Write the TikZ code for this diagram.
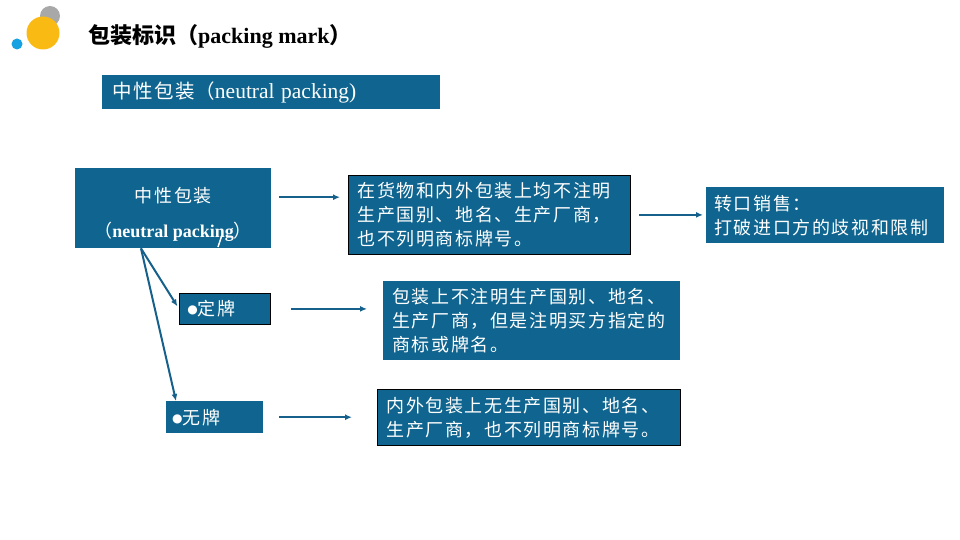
\documentclass[tikz,border=0pt]{standalone}
\usepackage{fontspec}
\setmainfont{Liberation Serif}
\newfontfamily\cjk{Noto Sans CJK SC}
\newfontfamily\cjkwide[LetterSpace=9]{Noto Sans CJK SC}
\newfontfamily\symb{DejaVu Sans}
\usepackage{tikz}
\usetikzlibrary{arrows.meta, calc, positioning}

\definecolor{boxblue}{RGB}{15,101,143}
\definecolor{lineblue}{RGB}{22,96,140}
\definecolor{logogray}{RGB}{168,168,168}
\definecolor{logoyellow}{RGB}{250,186,20}
\definecolor{logoblue}{RGB}{22,162,226}

\newcommand{\dotmark}{\raisebox{2pt}{\symb\fontsize{12}{12}\selectfont ●}}

\tikzset{
  box/.style={fill=boxblue, text=white, inner xsep=9pt, inner ysep=0pt,
    anchor=north west, align=left, font=\cjkwide\fontsize{18}{24}\selectfont},
  framed/.style={draw=black, line width=0.8pt},
  arr/.style={draw=lineblue, line width=2pt, -{Latex[length=7pt,width=6pt]}}
}

\begin{document}
\begin{tikzpicture}[x=1pt, y=-1pt]
      \useasboundingbox (0,0) rectangle (960,540);

      % logo
      \fill [logogray] (50,16) circle (10);
      \fill [logoyellow] (43,33) circle (16.5);
      \fill [logoblue] (17,44) circle (5.5);

      % title
      \node [anchor=west, inner sep=0] (title) at (88,36)
        {\fontsize{22}{24}\selectfont\bfseries{\cjk 包装标识（}packing mark{\cjk ）}};

      \node [box, minimum width=338, minimum height=34, inner xsep=10pt, text width=318,
        font=\fontsize{19.5}{24}\selectfont] (neutral) at (102,75)
        {{\cjkwide 中性包装}{\cjk （}{\fontsize{21.5}{24}\selectfont neutral packing)}};

      \node [box, minimum width=196, minimum height=80, align=center] (np) at (75,168)
        {\rule{0pt}{28pt}中性包装\\[11pt]{\cjk\fontsize{18}{24}\selectfont （}{\rmfamily\fontsize{18}{24}\selectfont\bfseries neutral packing}{\cjk\fontsize{18}{24}\selectfont ）}};
      \draw [white, line width=1.5pt] (222,235) -- (218,247);

      \node [box, framed, minimum width=282, minimum height=79, text width=264] (both) at (348,175)
        {在货物和内外包装上均不注明\\生产国别、地名、生产厂商，\\也不列明商标牌号。};

      \node [box, minimum width=238, minimum height=56, inner xsep=8pt, text width=222] (resale) at (706,187)
        {转口销售：\\打破进口方的歧视和限制};

      \node [box, framed, minimum width=91, minimum height=31, inner xsep=8pt, text width=75] (dingpai) at (179,293)
        {\dotmark 定牌};

      \node [box, minimum width=297, minimum height=79, text width=279] (buyer) at (383,281)
        {包装上不注明生产国别、地名、\\生产厂商，但是注明买方指定的\\商标或牌名。};

      \node [box, minimum width=97, minimum height=32, inner xsep=6pt, text width=85] (wupai) at (166,401)
        {\dotmark 无牌};

      \node [box, framed, minimum width=303, minimum height=56, text width=285] (none) at (377,389)
        {内外包装上无生产国别、地名、\\生产厂商，也不列明商标牌号。};

      % connectors
      \coordinate (fork) at ([xshift=66pt]np.south west);
      \draw [arr, shorten >=3pt] (fork) -- (dingpai.west);
      \draw [arr] (fork) -- ([xshift=10pt]wupai.north west);

      \draw [arr, shorten <=8pt, shorten >=8pt]
        ([yshift=11pt]np.east) -- ([yshift=11pt]np.east -| both.west);
      \draw [arr, shorten <=8pt, shorten >=3pt] (both.east) -- (both.east -| resale.west);
      \draw [arr, shorten <=20pt, shorten >=16pt] (dingpai.east) -- (dingpai.east -| buyer.west);
      \draw [arr, shorten <=16pt, shorten >=25pt] (wupai.east) -- (wupai.east -| none.west);
\end{tikzpicture}
\end{document}
